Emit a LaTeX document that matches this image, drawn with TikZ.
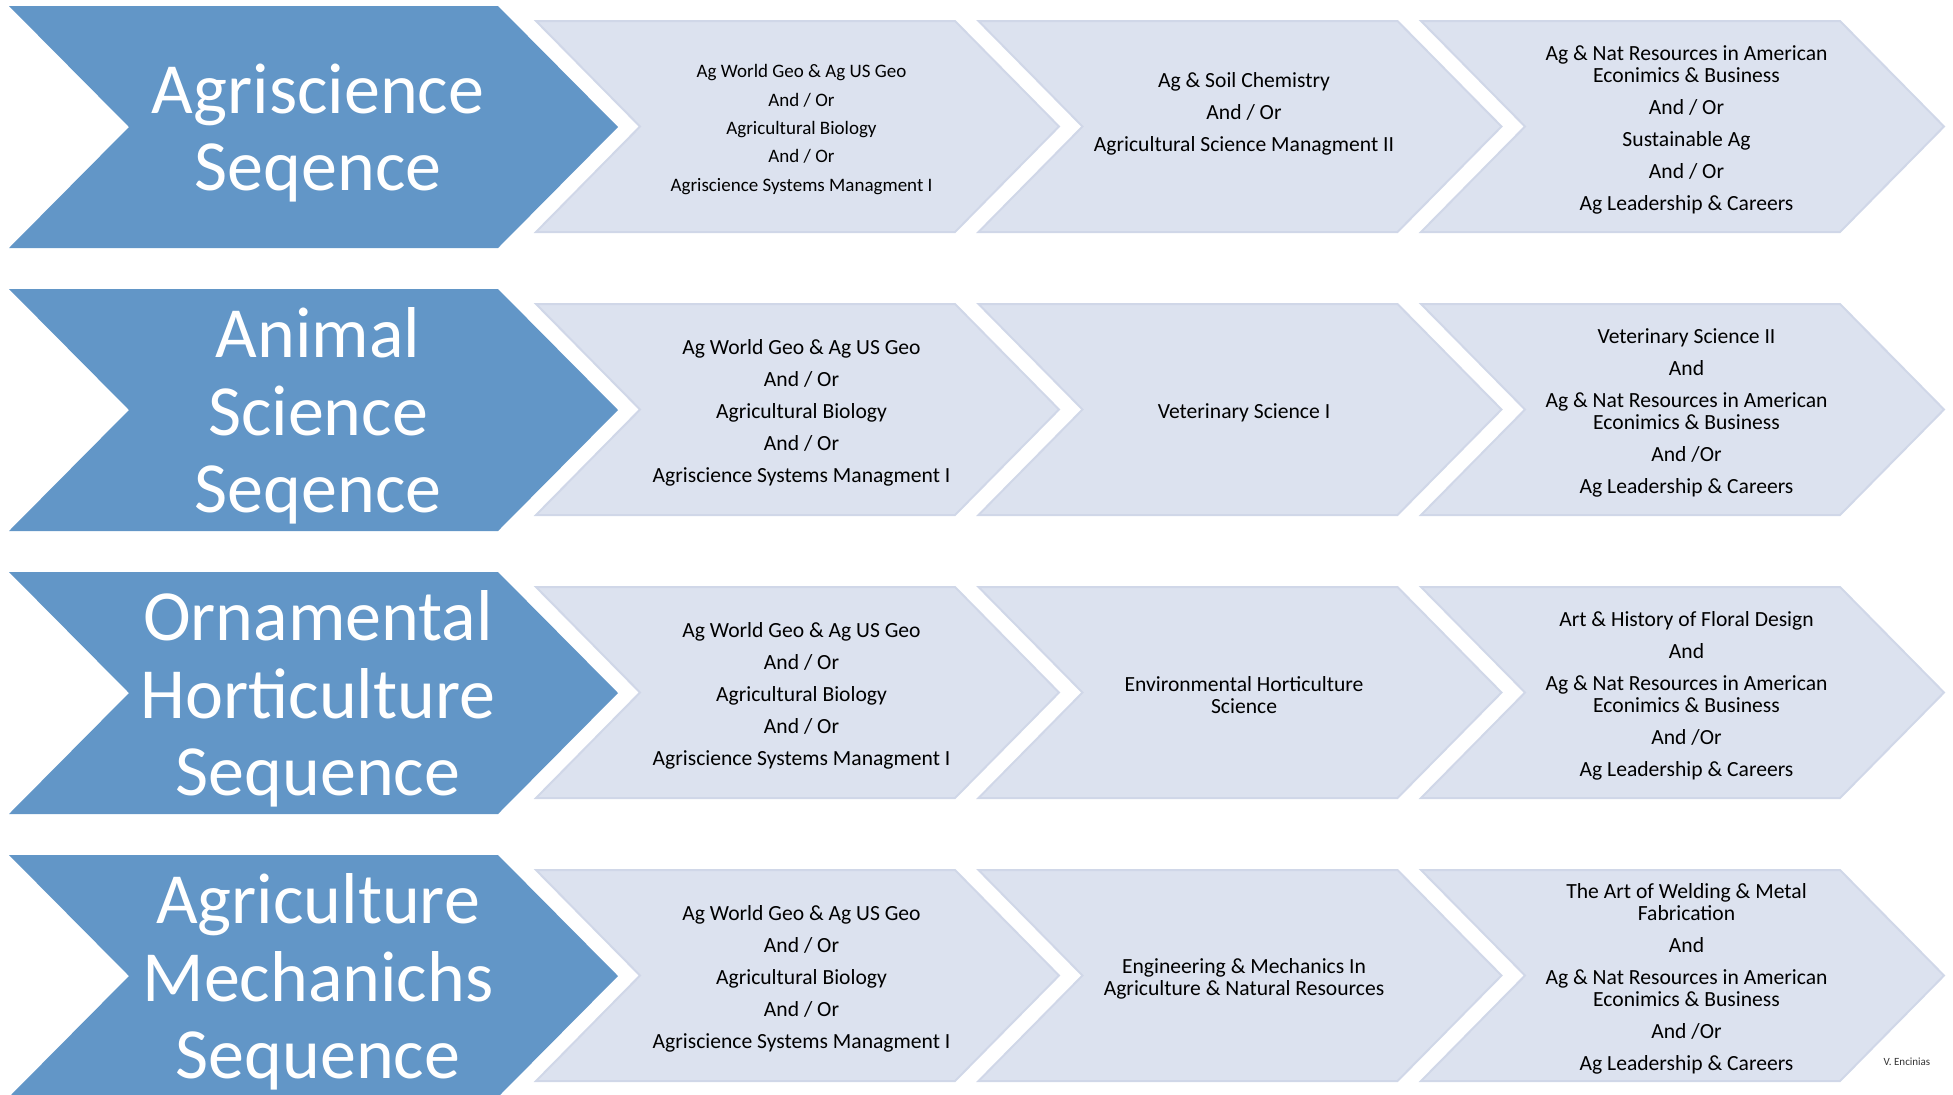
\documentclass[tikz,border=0pt]{standalone}
\usepackage{fontspec}
\setmainfont{Carlito}
\usepackage{xcolor}

\definecolor{seqblue}{RGB}{98,150,199}
\definecolor{stepfill}{RGB}{220,226,239}
\definecolor{stepline}{RGB}{208,215,232}

\begin{document}
\begin{tikzpicture}[x=0.5pt, y=-0.5pt,
    seq/.style ={
        fill=seqblue,
        draw=none
    },
    stepbox/.style ={
        fill=stepfill,
        draw=stepline,
        line width=1pt
    },
    title/.style ={
        text=white,
        align=center,
        font=\fontsize{36}{38.8}\selectfont
    },
    course/.style ={
        align=center,
        font=\fontsize{10.8}{11}\selectfont
    },
    smallcourse/.style ={
        align=center,
        font=\fontsize{9.5}{10}\selectfont
    }
    ]
    \useasboundingbox (0,0) rectangle (1953,1094);

    \foreach \y in {6,289,572,855}{
        \fill[seq] (9,\y) -- ++(489,0) -- ++(120,121) -- ++(-120,121) -- ++(-489,0) -- ++(120,-121) -- cycle;
        \foreach \x in {536,978.5,1421}
            \draw[stepbox] (\x,\y+15) -- ++(419,0) -- ++(104,105.5) -- ++(-104,105.5) -- ++(-419,0) -- ++(104,-105.5) -- cycle;
    }

    \foreach \n/ \y/ \txt in {{agri/133/{Agriscience\\Seqence}}, {anim/416/{Animal\\Science\\Seqence}},
                             {orna/699/{Ornamental\\Horticulture\\Sequence}}, {mech/982/{Agriculture\\Mechanichs\\Sequence}}}
        \node[title] (\n) at (318,\y) {\txt};

    % first row
    \node[smallcourse] (c11) at (801.5,129.5) {Ag World Geo \& Ag US Geo\\[4.2pt] And / Or\\[4.2pt] Agricultural Biology\\[4.2pt] And / Or\\[4.2pt] Agriscience Systems Managment I};
    \node[course] (c12) at (1244,114) {Ag \& Soil Chemistry\\[5pt] And / Or\\[5pt] Agricultural Science Managment II};
    \node[course] (c13) at (1686.5,129.5) {Ag \& Nat Resources in American\\ Econimics \& Business\\[5pt] And / Or\\[5pt] Sustainable Ag\\[5pt] And / Or\\[5pt] Ag Leadership \& Careers};

    % second row
    \node[course] (c21) at (801.5,412.5) {Ag World Geo \& Ag US Geo\\[5pt] And / Or\\[5pt] Agricultural Biology\\[5pt] And / Or\\[5pt] Agriscience Systems Managment I};
    \node[course] (c22) at (1244,412.5) {Veterinary Science I};
    \node[course] (c23) at (1686.5,412.5) {Veterinary Science II\\[5pt] And\\[5pt] Ag \& Nat Resources in American\\ Econimics \& Business\\[5pt] And /Or\\[5pt] Ag Leadership \& Careers};

    % third row
    \node[course] (c31) at (801.5,695.5) {Ag World Geo \& Ag US Geo\\[5pt] And / Or\\[5pt] Agricultural Biology\\[5pt] And / Or\\[5pt] Agriscience Systems Managment I};
    \node[course] (c32) at (1244,695.5) {Environmental Horticulture\\ Science};
    \node[course] (c33) at (1686.5,695.5) {Art \& History of Floral Design\\[5pt] And\\[5pt] Ag \& Nat Resources in American\\ Econimics \& Business\\[5pt] And /Or\\[5pt] Ag Leadership \& Careers};

    % fourth row
    \node[course] (c41) at (801.5,978.5) {Ag World Geo \& Ag US Geo\\[5pt] And / Or\\[5pt] Agricultural Biology\\[5pt] And / Or\\[5pt] Agriscience Systems Managment I};
    \node[course] (c42) at (1244,978.5) {Engineering \& Mechanics In\\ Agriculture \& Natural Resources};
    \node[course] (c43) at (1686.5,978.5) {The Art of Welding \& Metal\\ Fabrication\\[5pt] And\\[5pt] Ag \& Nat Resources in American\\ Econimics \& Business\\[5pt] And /Or\\[5pt] Ag Leadership \& Careers};

    \node[font=\fontsize{5.5}{6}\selectfont, text=black!80] (sign) at (1907,1062) {V. Encinias};
\end{tikzpicture}
\end{document}
